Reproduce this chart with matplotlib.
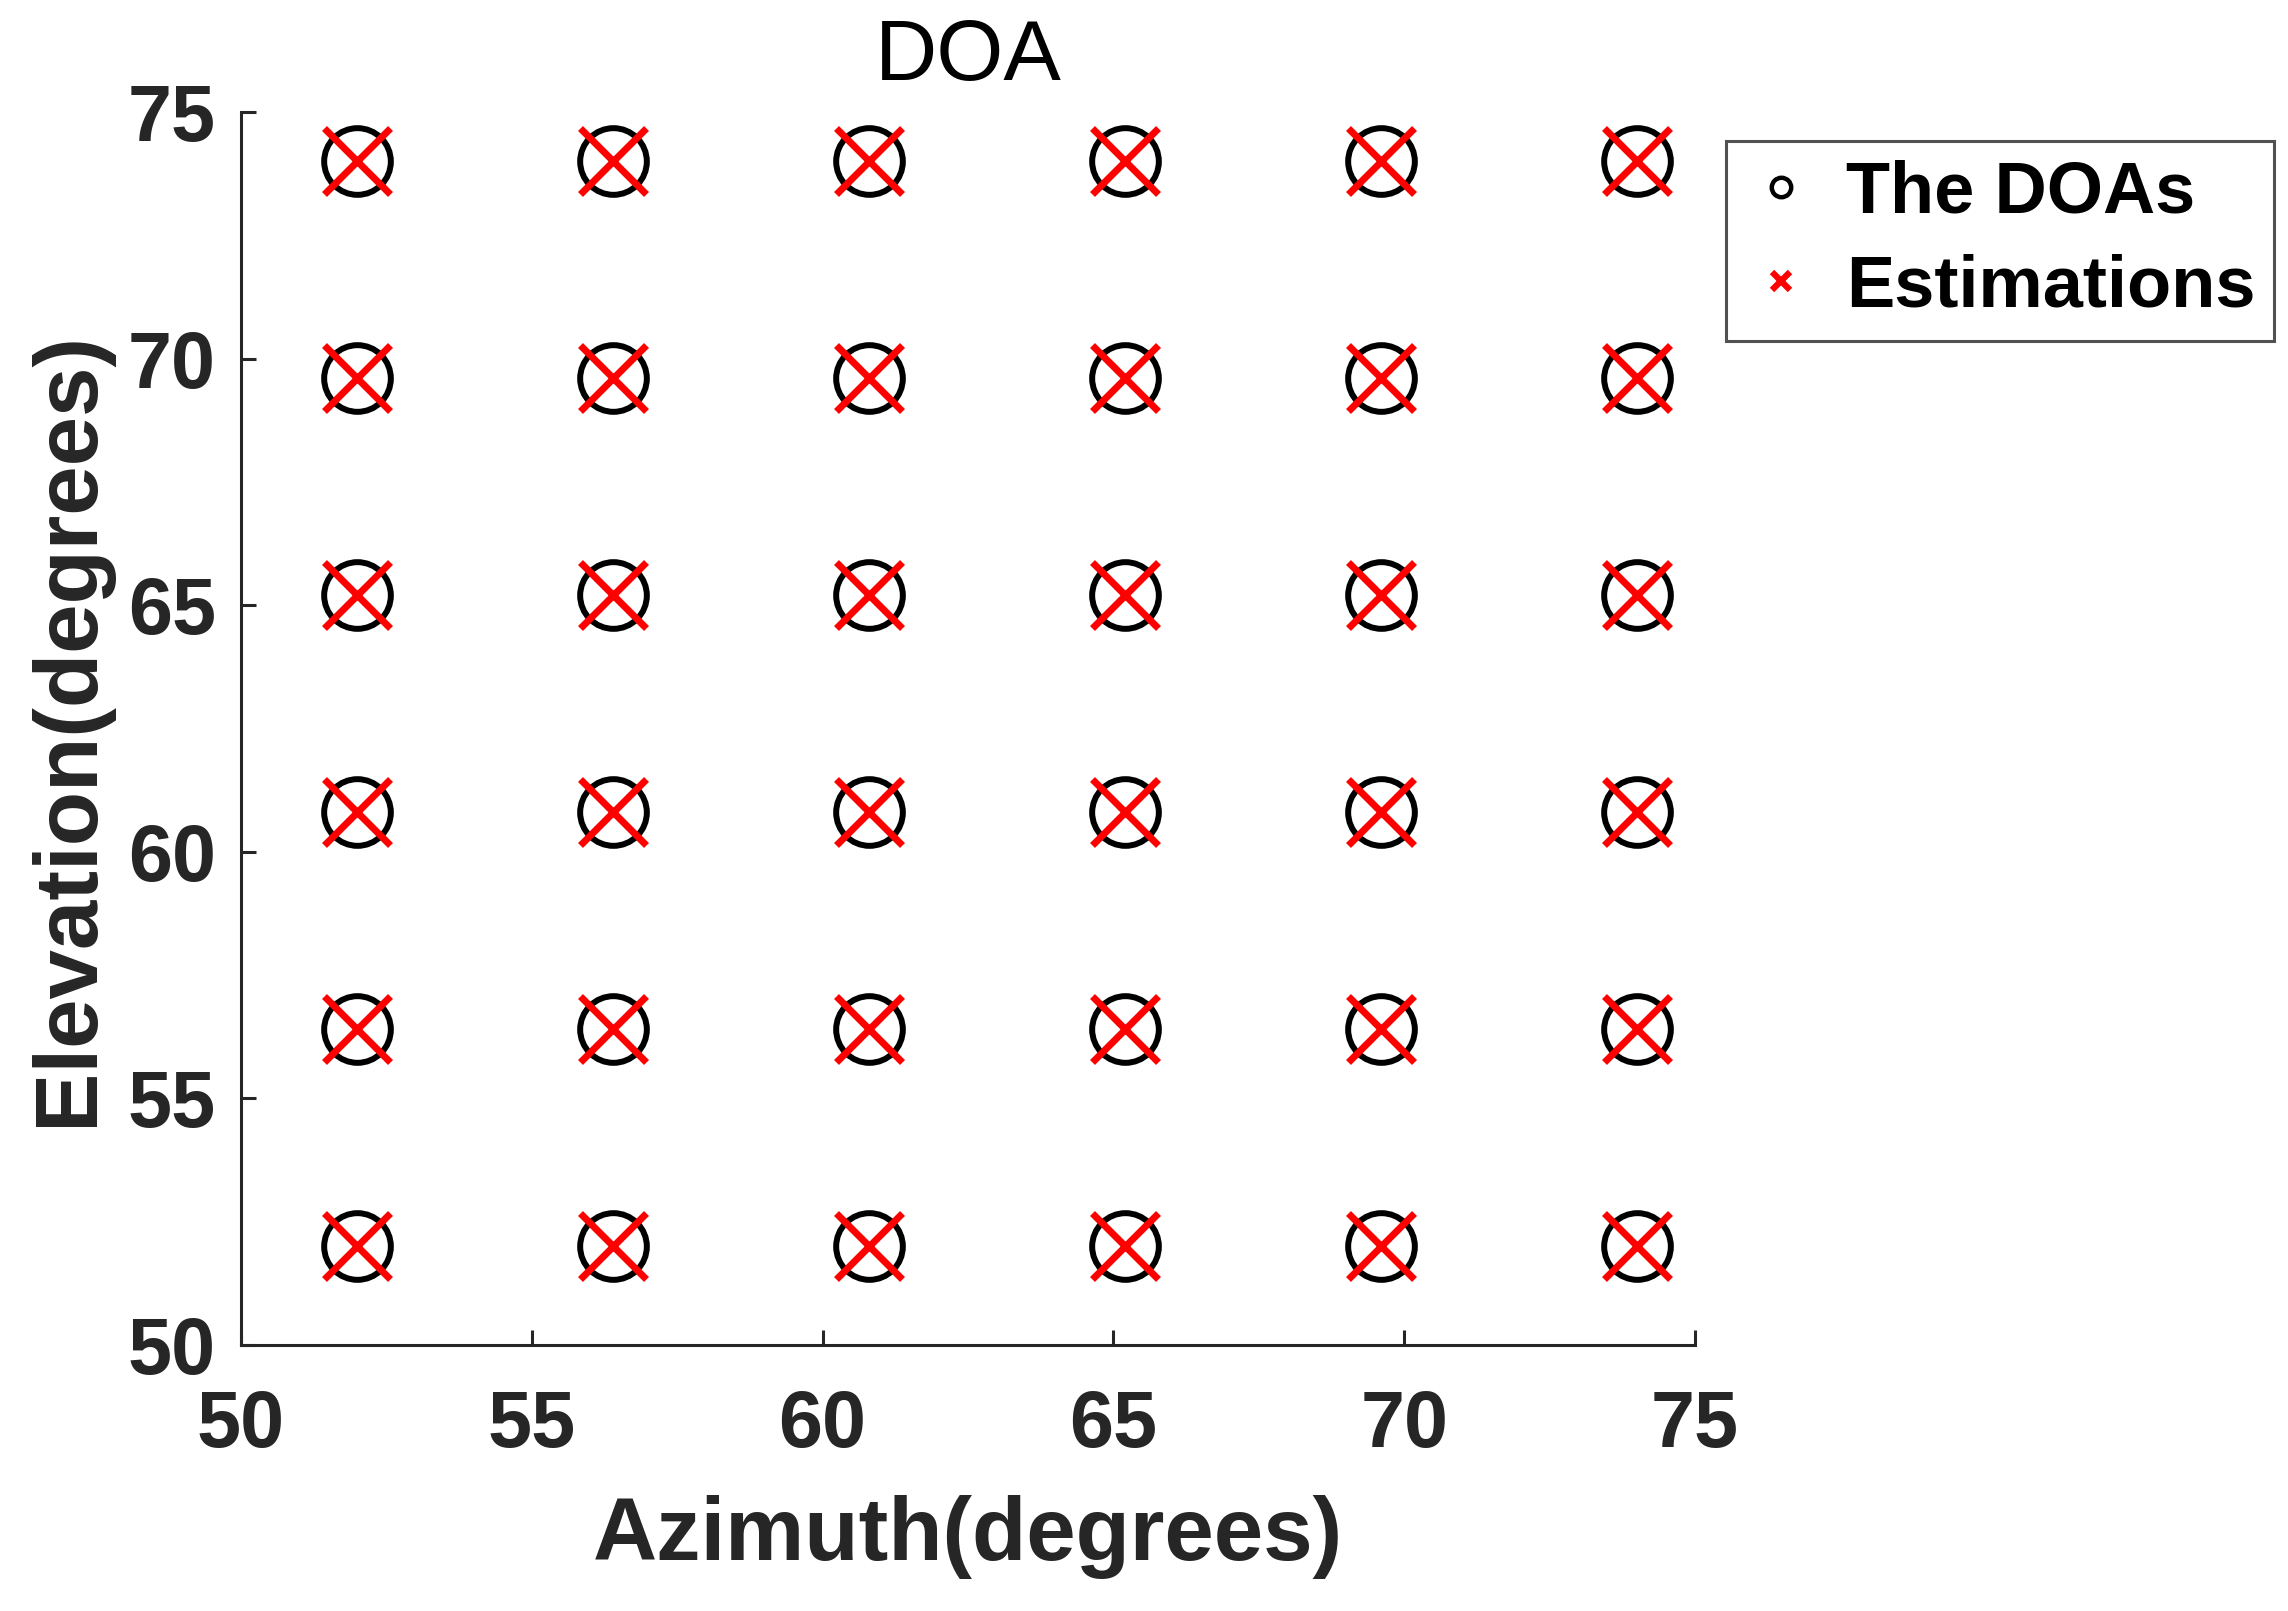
import matplotlib
matplotlib.use("Agg")
import matplotlib.pyplot as plt
from matplotlib.lines import Line2D

plt.rcParams['font.family'] = ['Liberation Sans', 'DejaVu Sans']

# True DOA grid (azimuth, elevation)
doa_az = [52, 56.4, 60.8, 65.2, 69.6, 74]
doa_el = [52, 56.4, 60.8, 65.2, 69.6, 74]
# Estimations (coincide with true DOAs)
est_az = [52, 56.4, 60.8, 65.2, 69.6, 74]
est_el = [52, 56.4, 60.8, 65.2, 69.6, 74]
xticks = [50, 55, 60, 65, 70, 75]
yticks = [50, 55, 60, 65, 70, 75]

true_x = [a for e in doa_el for a in doa_az]
true_y = [e for e in doa_el for a in doa_az]
est_x = [a for e in est_el for a in est_az]
est_y = [e for e in est_el for a in est_az]

fig = plt.figure(figsize=(22.88, 16.11), dpi=100)
ax = fig.add_axes([0.1053, 0.1651, 0.6355, 0.7654])

ax.plot(true_x, true_y, linestyle='none', marker='o', markersize=48,
        markerfacecolor='none', markeredgecolor='black', markeredgewidth=4.3)
ax.plot(est_x, est_y, linestyle='none', marker='x', markersize=47,
        markeredgecolor='#ff0000', markeredgewidth=5.0)

ax.set_xlim(50, 75)
ax.set_ylim(50, 75)
ax.set_xticks(xticks)
ax.set_yticks(yticks)
ax.spines['top'].set_visible(False)
ax.spines['right'].set_visible(False)
for s in ['left', 'bottom']:
    ax.spines[s].set_linewidth(2.2)
    ax.spines[s].set_color('#262626')
ax.tick_params(direction='in', length=11, width=2.2, color='#262626',
               labelsize=57, labelcolor='#262626', pad=18)
for lab in ax.get_xticklabels() + ax.get_yticklabels():
    lab.set_fontweight('bold')
ax.tick_params(axis='x', pad=32)

ax.set_xlabel('Azimuth(degrees)', fontsize=64, fontweight='bold', color='#262626', labelpad=22)
ax.set_ylabel('Elevation(degrees)', fontsize=64, fontweight='bold', color='#262626', labelpad=12)
ax.set_title('DOA', fontsize=62, color='black', pad=23)

handles = [
    Line2D([], [], linestyle='none', marker='o', markersize=14, markerfacecolor='none',
           markeredgecolor='black', markeredgewidth=3.2),
    Line2D([], [], linestyle='none', marker='x', markersize=13,
           markeredgecolor='#ff0000', markeredgewidth=4.5),
]
leg = fig.legend(handles, ['The DOAs', 'Estimations'], loc='upper left',
                 bbox_to_anchor=(0.7545, 0.9125), bbox_transform=fig.transFigure,
                 prop={'size': 52, 'weight': 'bold'}, frameon=True, fancybox=False,
                 handlelength=1.0, handletextpad=0.4, borderpad=0.26, labelspacing=0.36,
                 borderaxespad=0)
leg.get_frame().set_edgecolor('#262626')
leg.get_frame().set_linewidth(2.2)

fig.savefig('out.png', dpi=100)
